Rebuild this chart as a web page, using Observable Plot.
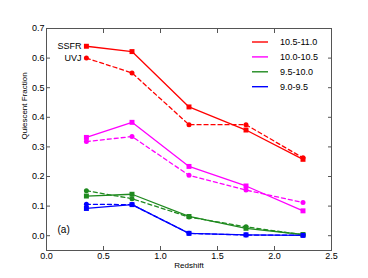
<!DOCTYPE html>
<html>
<head>
<meta charset="utf-8">
<script src="https://cdn.jsdelivr.net/npm/d3@7"></script>
<script src="https://cdn.jsdelivr.net/npm/@observablehq/plot@0.6"></script>
<style>
  html, body { margin: 0; padding: 0; background: #fff; }
  #wrap { position: relative; width: 368px; height: 278px; font-family: "Liberation Sans", Arial, sans-serif; }
</style>
</head>
<body>
<div id="wrap"></div>
<script>
// Data
const redshift = [0.35, 0.75, 1.25, 1.75, 2.25];
const massBins = ["10.5-11.0", "10.0-10.5", "9.5-10.0", "9.0-9.5"];
const binColors = ["#ff0000", "#ff00ff", "#1f8a1f", "#0000ff"];
const methods = ["SSFR", "UVJ"];
// SSFR-selected (solid, squares)
const ssfr_10_5_11_0 = [0.640, 0.622, 0.435, 0.357, 0.258];
const ssfr_10_0_10_5 = [0.332, 0.383, 0.234, 0.168, 0.084];
const ssfr_9_5_10_0  = [0.134, 0.140, 0.065, 0.025, 0.004];
const ssfr_9_0_9_5   = [0.092, 0.105, 0.008, 0.003, 0.001];
// UVJ-selected (dashed, circles)
const uvj_10_5_11_0 = [0.600, 0.550, 0.375, 0.375, 0.263];
const uvj_10_0_10_5 = [0.318, 0.335, 0.204, 0.154, 0.112];
const uvj_9_5_10_0  = [0.152, 0.125, 0.063, 0.030, 0.003];
const uvj_9_0_9_5   = [0.106, 0.105, 0.008, 0.002, 0.002];
const xTicks = [0, 0.5, 1.0, 1.5, 2.0, 2.5];
const yTicks = [0, 0.1, 0.2, 0.3, 0.4, 0.5, 0.6, 0.7];

const ssfrSeries = [ssfr_10_5_11_0, ssfr_10_0_10_5, ssfr_9_5_10_0, ssfr_9_0_9_5];
const uvjSeries = [uvj_10_5_11_0, uvj_10_0_10_5, uvj_9_5_10_0, uvj_9_0_9_5];
const toRows = (series, method) => series.flatMap((vals, i) =>
  vals.map((v, j) => ({bin: massBins[i], method, z: redshift[j], f: v})));
const ssfrRows = toRows(ssfrSeries, "SSFR");
const uvjRows = toRows(uvjSeries, "UVJ");
const firstRed = [
  {label: methods[0], z: redshift[0], f: ssfr_10_5_11_0[0]},
  {label: methods[1], z: redshift[0], f: uvj_10_5_11_0[0]}
];

const fmt = d3.format(".1f");
const chart = Plot.plot({
  width: 368,
  height: 278,
  marginLeft: 46,
  marginRight: 37,
  marginTop: 28,
  marginBottom: 28,
  style: {fontFamily: '"Liberation Sans", Arial, sans-serif', fontSize: "9px", color: "#000", background: "#fff"},
  x: {domain: [0, 2.5]},
  y: {domain: [-0.05, 0.7]},
  color: {domain: massBins, range: binColors},
  marks: [
    Plot.axisX({ticks: xTicks, tickFormat: fmt, tickSize: -4, tickPadding: 6, label: null, stroke: "#555"}),
    Plot.axisX({anchor: "top", ticks: xTicks, tickFormat: () => "", tickSize: -4, label: null, stroke: "#555"}),
    Plot.axisY({ticks: yTicks, tickFormat: fmt, tickSize: -4, tickPadding: 6, label: null, stroke: "#555"}),
    Plot.axisY({anchor: "right", ticks: yTicks, tickFormat: () => "", tickSize: -4, label: null, stroke: "#555"}),
    Plot.frame({stroke: "#555"}),
    Plot.line(uvjRows, {x: "z", y: "f", z: "bin", stroke: "bin", strokeWidth: 1.3, strokeDasharray: "4,3"}),
    Plot.line(ssfrRows, {x: "z", y: "f", z: "bin", stroke: "bin", strokeWidth: 1.3}),
    Plot.dot(uvjRows, {x: "z", y: "f", fill: "bin", symbol: "circle", r: 2.5}),
    Plot.dot(ssfrRows, {x: "z", y: "f", fill: "bin", symbol: "square", r: 2.8}),
    Plot.text(firstRed, {x: "z", y: "f", text: "label", textAnchor: "end", dx: -5, fill: "#000", fontSize: 9}),
    Plot.text(["(a)"], {frameAnchor: "bottom-left", textAnchor: "start", dx: 11, dy: -18, fontSize: 10, fill: "#000"}),
    Plot.text(["Redshift"], {frameAnchor: "bottom", dy: 17, fontSize: 8, fill: "#000"}),
    Plot.text(["Quiescent Fraction"], {frameAnchor: "left", rotate: -90, dx: -22, fontSize: 8, fill: "#000"})
  ]
});
document.getElementById("wrap").appendChild(chart);

// Legend (inside the frame, top right)
const lg = d3.select(chart).append("g")
  .attr("font-family", '"Liberation Sans", Arial, sans-serif')
  .attr("font-size", 9)
  .attr("text-anchor", "start");
const rows = lg.selectAll("g").data(massBins).join("g")
  .attr("transform", (d, i) => `translate(252,${42 + i * 14.9})`);
rows.append("line")
  .attr("x1", 0).attr("x2", 16).attr("y1", 0).attr("y2", 0)
  .attr("stroke", (d, i) => binColors[i]).attr("stroke-width", 1.4);
rows.append("text")
  .attr("x", 28).attr("y", 0).attr("dy", "0.32em")
  .attr("text-anchor", "start")
  .attr("fill", "#000").text(d => d);
</script>
</body>
</html>
